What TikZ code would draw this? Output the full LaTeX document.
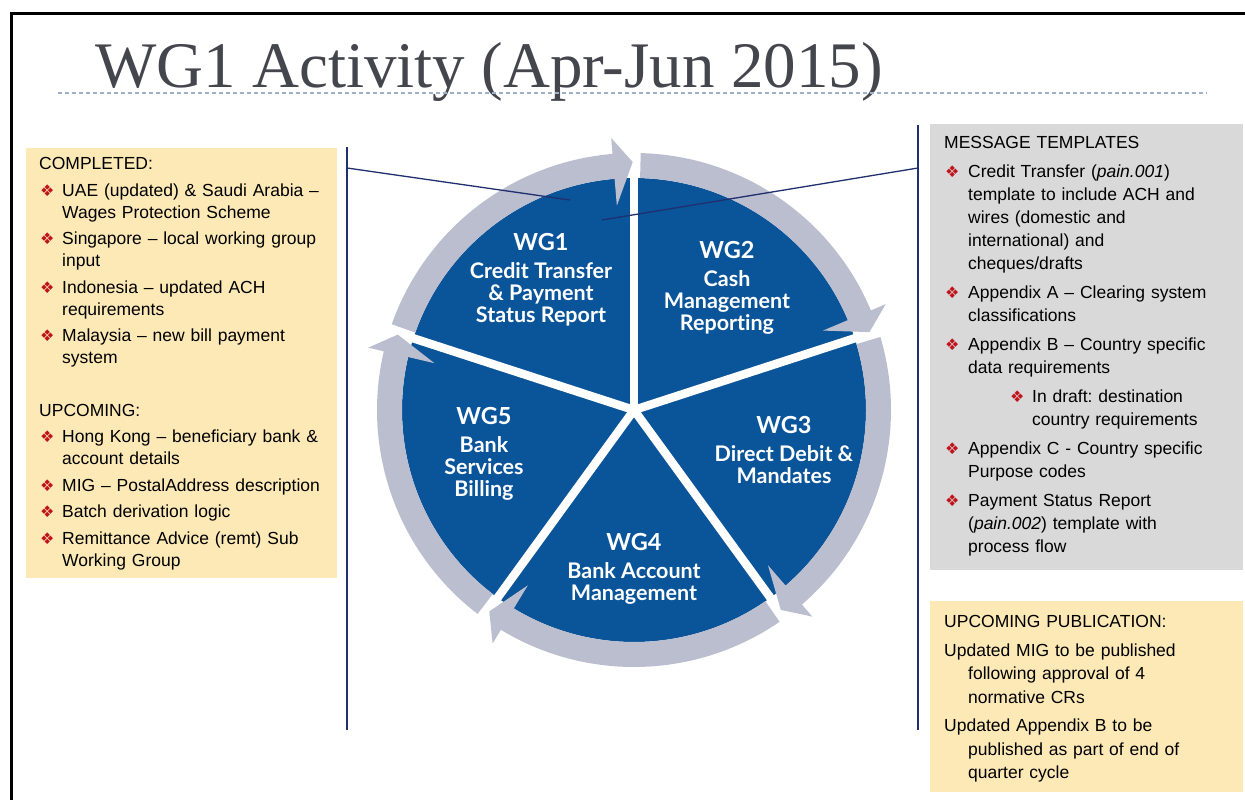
\documentclass[tikz,border=0pt]{standalone}
\usepackage{fontspec}
\usepackage{xcolor}
\usepackage{tikz}
\setmainfont{Liberation Sans}
\newfontfamily\titlefont{Liberation Serif}
\newfontfamily\piefont[Ligatures=NoCommon]{Lato}
\newfontfamily\symfont{DejaVu Sans}

\definecolor{boxyellow}{HTML}{FCE9B6}
\definecolor{panelgray}{HTML}{D9D9D9}
\definecolor{pieblue}{HTML}{0A5499}
\definecolor{ringgray}{HTML}{BBBECF}
\definecolor{linkblue}{HTML}{1F2F6F}
\definecolor{bulred}{HTML}{C0141C}
\definecolor{titlegray}{HTML}{45454D}
\definecolor{rulegray}{HTML}{9DB0C8}

\newcommand{\cx}{634}
\newcommand{\cy}{410}
\newlength{\itmind}
\setlength{\itmind}{23pt}
\newcommand{\bul}{{\symfont\fontsize{16}{16}\selectfont\textcolor{bulred}{❖}}}
\newcommand{\itm}[1]{\par\hangindent=\itmind\hangafter=1\noindent\makebox[\itmind][l]{\hspace{1pt}\bul}#1}
\newcommand{\subitm}[1]{\par\hangindent=88pt\hangafter=1\noindent\makebox[88pt][l]{\hspace{66pt}\bul}#1}
\newcommand{\hangline}[1]{\par\hangindent=\itmind\hangafter=1\noindent #1}
\newcommand{\wglabel}[1]{{\fontsize{23.5}{23.5}\selectfont #1}\\[6pt]}

\newcommand{\wgwedge}[2]{  % 2 angles
        \begin{scope}[shift={(\cx,\cy)}, yscale=-1]
            \fill[pieblue] (0,0) -- (#1:232) arc[start angle=#1, end angle=#2, radius=232] -- cycle;
        \end{scope}
}
\newcommand{\ringarrow}[2]{  % start angle, tip angle
        \begin{scope}[shift={(\cx,\cy)}, yscale=-1]
            \pgfmathsetmacro{\hb}{#2+4.5}
            \fill[ringgray] (#1:257) arc[start angle=#1, end angle=\hb, radius=257]
                -- (\hb:273) -- (#2:248) -- (\hb:205) -- (\hb:232)
                arc[start angle=\hb, end angle=#1, radius=232] -- cycle;%head
        \end{scope}
}

\tikzset{
    panel/.style={anchor=north west, inner sep=0pt, draw=none},
    boxtext/.style={anchor=north west, inner sep=0pt, text width=310pt},
    wgtext/.style={anchor=north, inner sep=0pt, text=white, align=center,
        font=\piefont\bfseries\fontsize{21.5}{22}\selectfont},
    linkline/.style={linkblue, line width=1.3pt}
}

\begin{document}
\begin{tikzpicture}[x=1pt, y=-1pt]
        \useasboundingbox (0,0) rectangle (1245,800);
        \draw[line width=3pt] (1245,14) -- (11,14) -- (11,800);
        \node[anchor=base west, inner sep=0pt, text=titlegray,
            font=\titlefont\fontsize{65}{70}\selectfont] (title) at (95,88) {WG1 Activity (Apr-Jun 2015)};
        \draw[rulegray, line width=1.2pt, dash pattern=on 4pt off 3pt] (58,93) -- (1207,93);

        % side panels
        \node[panel, fill=boxyellow, minimum width=311pt, minimum height=430pt] (completed box) at (26,148) {};
        \node[panel, fill=panelgray, minimum width=313pt, minimum height=446pt] (templates box) at (930,124) {};
        \node[panel, fill=boxyellow, minimum width=313pt, minimum height=191pt] (publication box) at (930,601) {};

        \node[boxtext, font=\fontsize{17.5}{22}\selectfont\setlength{\parskip}{4.5pt}] (completed list)
            at ([xshift=13pt, yshift=-6pt]completed box.north west) {%
            \noindent\strut COMPLETED:
            \itm{UAE (updated) \& Saudi Arabia –\newline Wages Protection Scheme}
            \itm{Singapore – local working group\newline input}
            \itm{Indonesia – updated ACH\newline requirements}
            \itm{Malaysia – new bill payment\newline system}
            \par\vspace{26pt}
            \noindent UPCOMING:
            \itm{Hong Kong – beneficiary bank \&\newline account details}
            \itm{MIG – PostalAddress description}
            \itm{Batch derivation logic}
            \itm{Remittance Advice (remt) Sub\newline Working Group}\par};

        \setlength{\itmind}{24pt}
        \node[boxtext, font=\fontsize{17.5}{23}\selectfont\setlength{\parskip}{6pt}] (templates list)
            at ([xshift=14pt, yshift=-8pt]templates box.north west) {%
            \noindent\strut MESSAGE TEMPLATES
            \itm{Credit Transfer (\textit{pain.001})\newline template to include ACH and\newline wires (domestic and\newline international) and\newline cheques/drafts}
            \itm{Appendix A – Clearing system\newline classifications}
            \itm{Appendix B – Country specific\newline data requirements}
            \subitm{In draft:\ destination\newline country requirements}
            \itm{Appendix C - Country specific\newline Purpose codes}
            \itm{Payment Status Report\newline (\textit{pain.002}) template with\newline process flow}\par};

        \node[boxtext, font=\fontsize{17.5}{23.5}\selectfont\setlength{\parskip}{5pt}] (publication list)
            at ([xshift=14pt, yshift=-10pt]publication box.north west) {%
            \noindent\strut UPCOMING PUBLICATION:
            \hangline{Updated MIG to be published\newline following approval of 4\newline normative CRs}
            \hangline{Updated Appendix B to be\newline published as part of end of\newline quarter cycle}\par};

        % pie
        \wgwedge{90}{162}
        \wgwedge{18}{90}
        \wgwedge{-54}{18}
        \wgwedge{-126}{-54}
        \wgwedge{-198}{-126}
        \begin{scope}[shift={(\cx,\cy)}, yscale=-1]
            \foreach \g in {90,18,-54,-126,162}
                \draw[white, line width=8.5pt] (0,0) -- (\g:238);
        \end{scope}
        \ringarrow{160.5}{90.3}
        \ringarrow{88.5}{18.3}
        \ringarrow{16.5}{-53.7}
        \ringarrow{-55.5}{-125.7}
        \ringarrow{-127.5}{-197.7}

        \node[wgtext] (wg1) at (541,233) {\wglabel{WG1}Credit Transfer\\ \& Payment\\ Status Report};
        \node[wgtext] (wg2) at (727,241) {\wglabel{WG2}Cash\\ Management\\ Reporting};
        \node[wgtext] (wg3) at (784,416) {\wglabel{WG3}Direct Debit \&\\ Mandates};
        \node[wgtext] (wg4) at (634,533) {\wglabel{WG4}Bank Account\\ Management};
        \node[wgtext] (wg5) at (484,407) {\wglabel{WG5}Bank\\ Services\\ Billing};

        % bars and pointers
        \coordinate (lbar top) at (347,147);
        \coordinate (lbar end) at (347,730);
        \coordinate (lbar tap) at (347,168);
        \coordinate (wg1 pin l) at (570,200);
        \coordinate (rbar top) at (918,125);
        \coordinate (rbar end) at (918,730);
        \coordinate (rbar tap) at (918,168);
        \coordinate (wg1 pin r) at (602,220);
        \draw[linkline] (lbar top) -- (lbar end);
        \draw[linkline] (rbar top) -- (rbar end);
        \draw[linkline] (lbar tap) -- (wg1 pin l);
        \draw[linkline] (rbar tap) -- (wg1 pin r);
\end{tikzpicture}
\end{document}
